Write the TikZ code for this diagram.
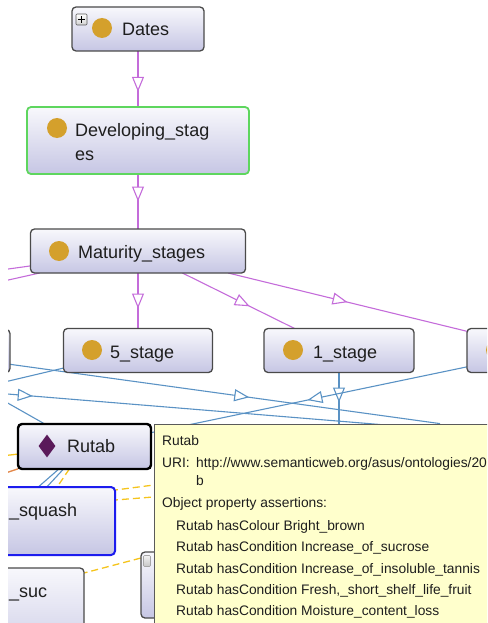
\documentclass[tikz,border=0pt]{standalone}
\usepackage{fontspec}
\setmainfont{Liberation Sans}
\usetikzlibrary{arrows.meta,decorations.markings,shapes.geometric}

\definecolor{nodetop}{HTML}{F8F8FC}
\definecolor{nodebot}{HTML}{C6C6E4}
\definecolor{nodeline}{HTML}{4A4A4A}
\definecolor{dotc}{HTML}{D4A02C}
\definecolor{isac}{HTML}{C46CDA}
\definecolor{relblue}{HTML}{5A92C4}
\definecolor{reldash}{HTML}{F5C41C}
\definecolor{relorange}{HTML}{E3884A}
\definecolor{tipfill}{HTML}{FFFFCC}
\definecolor{tipline}{HTML}{5A5A5A}
\definecolor{selgreen}{HTML}{5ED65E}
\definecolor{selblue}{HTML}{1C1CEE}
\definecolor{indiv}{HTML}{5A1A5A}
\definecolor{textc}{HTML}{1E1E1E}

\pgfdeclarelayer{edges}
\pgfdeclarelayer{popup}
\pgfsetlayers{edges,main,popup}

\tikzset{
  cls/.style={draw=nodeline, line width=1.3pt, rounded corners=4pt,
    top color=nodetop, bottom color=nodebot, inner sep=0pt, outer sep=0pt},
  dot/.style={circle, fill=dotc, minimum size=20pt, inner sep=0pt},
  lbl/.style={anchor=base west, inner sep=0pt, text=textc,
    font=\fontsize{18}{20}\selectfont},
  tiptext/.style={anchor=base west, inner sep=0pt, text=textc,
    font=\fontsize{13.8}{16}\selectfont},
  isa/.style={draw=isac, line width=1.1pt},
  rel/.style={draw=relblue, line width=1.1pt},
  solidrel/.style={line width=1.3pt},
  dashrel/.style={draw=reldash, line width=1.3pt, dash pattern=on 7pt off 4pt},
  hollow/.style={postaction={decorate}, decoration={markings,
    mark=at position #1 with {\arrow[line width=1.1pt]{Triangle[open, fill=white, length=15pt, width=12pt]}}}},
}

\begin{document}
\begin{tikzpicture}[x=1pt,y=-1pt]
\useasboundingbox (0,0) rectangle (487,623);
\clip (8,0) rectangle (487,623);

% ---------- class boxes ----------
\node[cls, minimum width=132pt, minimum height=44pt] (dates) at (138,29) {};
\node[cls, draw=selgreen, line width=1.8pt, minimum width=222pt, minimum height=67pt] (devel) at (138,140.5) {};
\node[cls, minimum width=215pt, minimum height=44pt] (matur) at (138,251) {};
\node[cls, minimum width=149pt, minimum height=44pt] (st5) at (138,350.5) {};
\node[cls, minimum width=150pt, minimum height=44pt] (st1) at (339,350.5) {};
\node[cls, minimum width=158pt, minimum height=44pt] (stR) at (546,350.5) {};
\node[cls, minimum width=150pt, minimum height=43pt] (stL) at (-65,351) {};
\node[cls, draw=black, line width=2.4pt, minimum width=133pt, minimum height=45pt] (rutab) at (84.5,446.5) {};
\node[cls, draw=selblue, line width=2pt, minimum width=215pt, minimum height=68pt] (squash) at (7.5,521) {};
\node[cls, minimum width=184pt, minimum height=100pt] (suc) at (-8,618) {};
\node[cls, minimum width=80pt, minimum height=66pt] (small) at (181,585) {};

% expand markers
\node[draw=gray!70!black, line width=0.6pt, top color=white, bottom color=gray!35,
  minimum size=11pt, inner sep=0pt, rounded corners=1pt] (datesexp) at (81.5,19.5) {};
\draw[line width=1.2pt, black] ([xshift=-3.2pt]datesexp.center) -- ([xshift=3.2pt]datesexp.center)
  ([yshift=-3.2pt]datesexp.center) -- ([yshift=3.2pt]datesexp.center);
\node[draw=gray!70, line width=0.6pt, top color=gray!10, bottom color=gray!45,
  minimum width=7pt, minimum height=11pt, inner sep=0pt, rounded corners=1pt] (smallexp) at (147,561) {};

% ---------- icons and labels ----------
\node[dot] (datesdot) at (102,28) {};
\node[lbl] (dateslbl) at (122,35.5) {Dates};
\node[dot] (develdot) at (57,128) {};
\node[lbl] (devellbl) at (75,136) {Developing\_stag};
\node[lbl] (devellbl2) at (75,160) {es};
\node[dot] (maturdot) at (59,251) {};
\node[lbl] (maturlbl) at (78,258) {Maturity\_stages};
\node[dot] (st5dot) at (92,350) {};
\node[lbl] (st5lbl) at (110,358) {5\_stage};
\node[dot] (st1dot) at (293,350) {};
\node[lbl] (st1lbl) at (313,358) {1\_stage};
\node[dot] (stRdot) at (496,350) {};
\node[diamond, fill=indiv, minimum width=17pt, minimum height=23pt, inner sep=0pt] (rutabicon) at (47,446) {};
\node[lbl] (rutablbl) at (67,452.5) {Rutab};
\node[lbl] (squashlbl) at (9,516.5) {\_squash};
\node[lbl] (suclbl) at (9,597) {\_suc};

% free ends of edges that leave the view
\coordinate (mLa) at (-40,275.7);
\coordinate (mLb) at (-40,290.8);
\coordinate (st1down) at (339,470);
\coordinate (l1a) at (-40,357.4);
\coordinate (l1b) at (440,423.6);
\coordinate (l2a) at (-40,392.5);
\coordinate (l3a) at (-40,390.1);
\coordinate (l3b) at (380,424.5);
\coordinate (l4a) at (-40,376);
\coordinate (b1) at (20,503);
\coordinate (b2) at (30,505);
\coordinate (y1) at (45,505);
\coordinate (ya) at (-40,460.7);
\coordinate (oa) at (-40,488.3);
\coordinate (sqa) at (100,492);
\coordinate (sqb) at (200,479);
\coordinate (sqc) at (100,501.2);
\coordinate (sqd) at (200,493.3);
\coordinate (suca) at (70,576.7);
\coordinate (sucb) at (150,555.6);

% ---------- edges ----------
\begin{pgfonlayer}{edges}
\clip (8,0) rectangle (487,623);
\draw[isa, hollow=0.73] (dates) -- (devel);
\draw[isa, hollow=0.5] (devel) -- (matur);
\draw[isa, hollow=0.64] (matur) -- (st5);
\draw[isa, hollow=0.6] (matur) -- (st1);
\draw[isa, hollow=0.5] (matur) -- (stR);
\draw[isa] (matur) -- (mLa);
\draw[isa] (matur) -- (mLb);

\draw[rel, hollow=30pt] (st1) -- (st1down);
\draw[rel, hollow=163pt] (stR) -- (rutab);
\draw[rel, hollow=292pt] (l1a) -- (l1b);
\draw[rel, hollow=73pt] (l3a) -- (l3b);
\draw[rel] (l2a) -- (st5);
\draw[rel] (l4a) -- (rutab);
\draw[rel] (rutab) -- (b1);
\draw[rel] (rutab) -- (b2);

\draw[dashrel] (rutab) -- (y1);
\draw[solidrel, draw=reldash] (ya) -- (rutab);
\draw[solidrel, draw=relorange] (oa) -- (rutab);
\draw[dashrel] (sqa) -- (sqb);
\draw[dashrel] (sqc) -- (sqd);
\draw[dashrel] (suca) -- (sucb);
\end{pgfonlayer}

% ---------- tooltip ----------
\begin{pgfonlayer}{popup}
\clip (8,0) rectangle (487,623);
\node[draw=tipline, line width=1.6pt, fill=tipfill, anchor=north west, inner sep=0pt,
  minimum width=400pt, minimum height=260pt] (popup) at (153.5,423.5) {};
\node[tiptext] (tipname) at (162,445) {Rutab};
\node[tiptext] (tipuri) at (162,467) {URI:};
\node[tiptext] (tipurl) at (196,467) {http://www.semanticweb.org/asus/ontologies/20};
\node[tiptext] (tipurl2) at (196,485) {b};
\node[tiptext] (tiphead) at (162,507) {Object property assertions:};
\node[tiptext] (tipa) at (176,530) {Rutab hasColour Bright\_brown};
\node[tiptext] (tipb) at (176,551) {Rutab hasCondition Increase\_of\_sucrose};
\node[tiptext] (tipc) at (176,573) {Rutab hasCondition Increase\_of\_insoluble\_tannis};
\node[tiptext] (tipd) at (176,594) {Rutab hasCondition Fresh,\_short\_shelf\_life\_fruit};
\node[tiptext] (tipe) at (176,615) {Rutab hasCondition Moisture\_content\_loss};
\end{pgfonlayer}
\end{tikzpicture}
\end{document}
